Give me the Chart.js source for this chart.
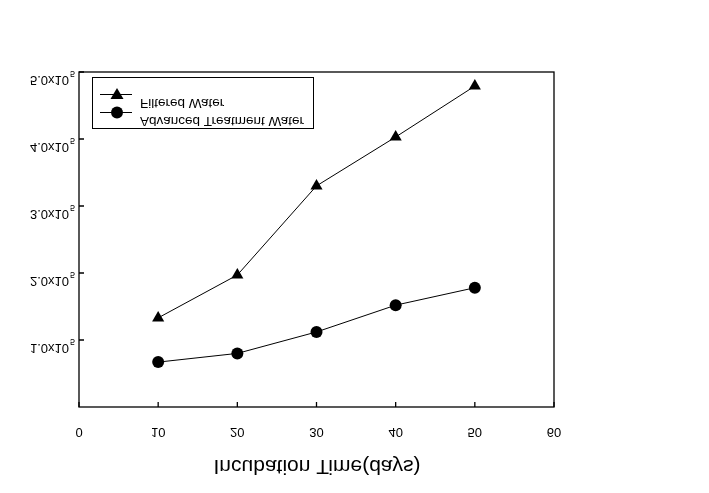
<!DOCTYPE html>
<html>
<head>
<meta charset="utf-8">
<script src="https://cdn.jsdelivr.net/npm/chart.js@4/dist/chart.umd.min.js"></script>
<style>
html, body { margin: 0; padding: 0; background: #fff; }
canvas { display: block; }
</style>
</head>
<body>
<canvas id="myChart" width="709" height="493"></canvas>
<script>
const days = [10, 20, 30, 40, 50];
const filteredWater = [1.33e5, 1.97e5, 3.30e5, 4.03e5, 4.79e5];
const advancedWater = [0.67e5, 0.80e5, 1.12e5, 1.52e5, 1.78e5];
const xTicks = [0, 10, 20, 30, 40, 50, 60];
const yTicks = [1e5, 2e5, 3e5, 4e5, 5e5];
const yTickLabels = ["1.0x10", "2.0x10", "3.0x10", "4.0x10", "5.0x10"];
const seriesNames = ["Filtered Water", "Advanced Treatment Water"];
const xTitle = "Incubation Time(days)";

const FONT = "Arial, 'Liberation Sans', sans-serif";

// the source draws every glyph upside down, so text is flipped in place
function flipText(c, text, x, y, size, align) {
c.save();
c.font = size + "px " + FONT;
c.fillStyle = "#000";
c.textAlign = align || "center";
c.textBaseline = "middle";
c.translate(x, y);
c.scale(1, -1);
c.fillText(text, 0, 0);
c.restore();
}

const framePlugin = {
id: "frame",
afterDraw(chart) {
const c = chart.ctx;
const a = chart.chartArea;
const xs = chart.scales.x;
const ys = chart.scales.y;
c.save();
c.strokeStyle = "#000";
c.lineWidth = 1.3;
c.strokeRect(a.left, a.top, a.right - a.left, a.bottom - a.top);

// inward ticks
c.beginPath();
xTicks.forEach(v => {
const px = xs.getPixelForValue(v);
c.moveTo(px, a.bottom);
c.lineTo(px, a.bottom - 5);
});
yTicks.forEach(v => {
const py = ys.getPixelForValue(v);
c.moveTo(a.left, py);
c.lineTo(a.left + 5, py);
});
c.stroke();
c.restore();

// x tick labels
xTicks.forEach(v => {
flipText(c, String(v), xs.getPixelForValue(v), a.bottom + 25, 13);
});
// y tick labels with exponent
yTicks.forEach((v, i) => {
const py = ys.getPixelForValue(v);
flipText(c, yTickLabels[i], 69, py + 8, 13, "right");
flipText(c, "5", 70, py + 1, 9, "left");
});
// axis title
flipText(c, xTitle, 317, a.bottom + 59, 21);

// legend box
c.save();
c.strokeStyle = "#000";
c.lineWidth = 1;
c.strokeRect(92.5, 77.5, 221, 51);
c.beginPath();
c.moveTo(100, 94.5); c.lineTo(132, 94.5);
c.moveTo(100, 112.5); c.lineTo(132, 112.5);
c.stroke();
c.fillStyle = "#000";
c.beginPath();
c.moveTo(117, 88); c.lineTo(123.5, 99); c.lineTo(110.5, 99); c.closePath();
c.fill();
c.beginPath();
c.arc(117, 112.5, 6, 0, Math.PI * 2);
c.fill();
c.restore();
flipText(c, seriesNames[0], 140, 103, 13.5, "left");
flipText(c, seriesNames[1], 140, 121, 13.5, "left");
}
};

const ctx = document.getElementById("myChart").getContext("2d");

new Chart(ctx, {
type: "line",
data: {
datasets: [{
label: seriesNames[0],
data: days.map((d, i) => ({ x: d, y: filteredWater[i] })),
borderColor: "#000",
backgroundColor: "#000",
borderWidth: 1,
pointStyle: "triangle",
pointRadius: 7,
pointBorderWidth: 0,
fill: false,
tension: 0
}, {
label: seriesNames[1],
data: days.map((d, i) => ({ x: d, y: advancedWater[i] })),
borderColor: "#000",
backgroundColor: "#000",
borderWidth: 1,
pointStyle: "circle",
pointRadius: 6,
pointBorderWidth: 0,
fill: false,
tension: 0
}]
},
options: {
responsive: false,
animation: false,
devicePixelRatio: 1,
layout: { padding: { left: 79, right: 155, top: 72, bottom: 86 } },
plugins: {
legend: { display: false },
tooltip: { enabled: false }
},
scales: {
x: {
type: "linear",
min: 0,
max: 60,
ticks: { display: false },
grid: { display: false, drawTicks: false },
border: { display: false },
afterFit: s => { s.height = 0; }
},
y: {
min: 0,
max: 5e5,
ticks: { display: false },
grid: { display: false, drawTicks: false },
border: { display: false },
afterFit: s => { s.width = 0; }
}
}
},
plugins: [framePlugin]
});
</script>
</body>
</html>
